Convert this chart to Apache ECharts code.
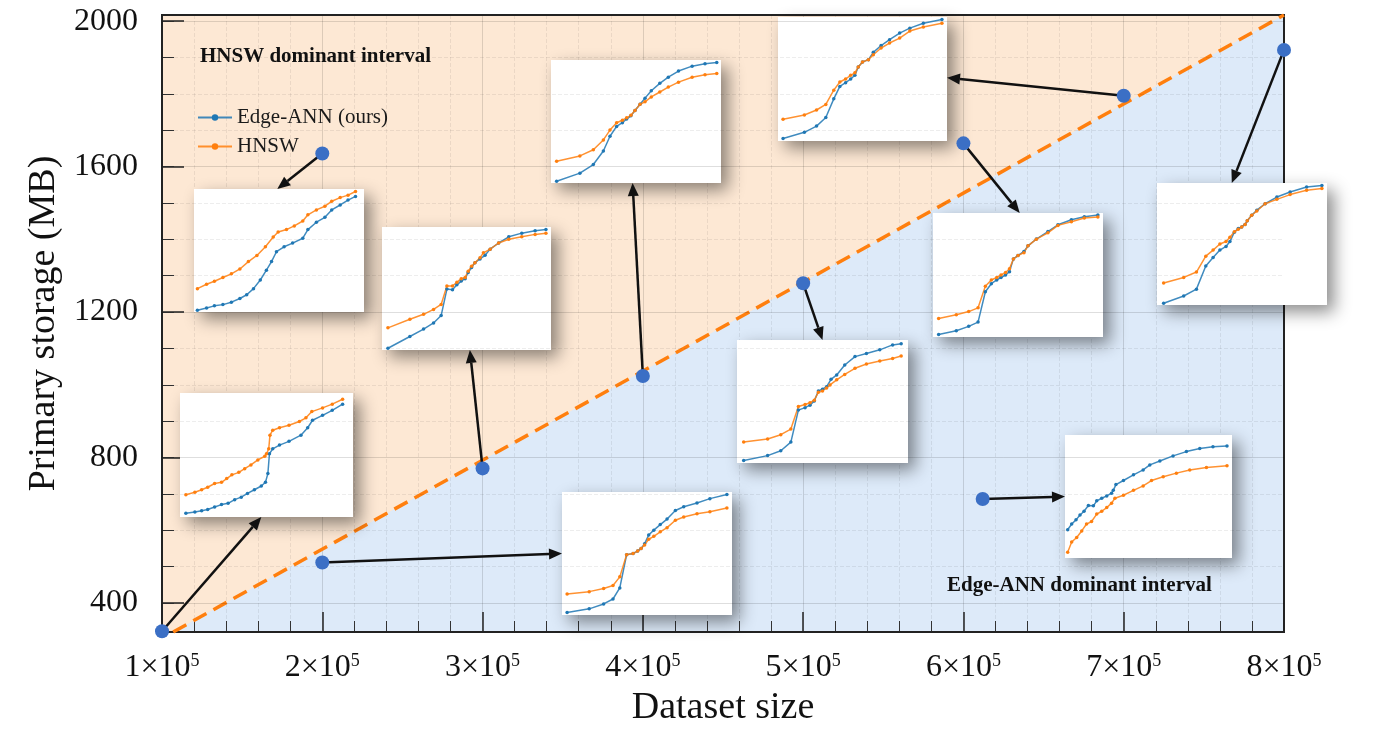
<!DOCTYPE html>
<html>
<head>
<meta charset="utf-8">
<script src="https://cdn.jsdelivr.net/npm/echarts@6/dist/echarts.min.js"></script>
<style>html,body{margin:0;padding:0;background:#fff}#main{width:1400px;height:732px}</style>
</head>
<body>
<div id="main"></div>
<script>
// main axes
var xMin = 1e5, xMax = 8e5;
var yMin = 320, yMax = 2017;
var yMajor = [400, 800, 1200, 1600, 2000];
var yMinor = [400, 500, 600, 700, 800, 900, 1000, 1100, 1200, 1300, 1400, 1500, 1600, 1700, 1800, 1900, 2000];

// border between the two regions
var boundary = [[1.07e5, 320], [8e5, 2017]];

// measured points (dataset size, primary storage)
var pointX = [1e5, 2e5, 2e5, 3e5, 4e5, 5e5, 6e5, 6.12e5, 7e5, 8e5];
var pointY = [322, 1636, 511, 770, 1024, 1279, 1664, 686, 1795, 1921];

// inset curves, x and y in % of the inset box
var insetB_edge = [[3.4,3],[8.6,4],[12.5,5],[16,6],[20,8],[24,10],[27.8,11],[31.6,14],[35.4,16],[39,19],[43,22],[47,25],[49.4,28],[50.8,35],[51.7,51],[53.6,55],[57.5,58],[63,61],[69.9,66],[73.8,72],[76.6,78],[82.4,82],[88,86],[94,91]];
var insetB_hnsw = [[3.4,18],[8.6,20],[12.5,22],[16,24],[20,27],[24,28],[27,31],[30,34],[34,36],[37.4,39],[41,42],[45,46],[49,49],[50,51],[51.3,55],[52,66],[53.6,70],[57.5,72],[63,74],[69,77],[72.8,80],[76.2,85],[82.4,88],[88,91],[94,95]];
var insetA_edge = [[2,1.4],[7.4,3.3],[12,5],[17,6],[22,8],[27,11],[31,14],[35,19],[39,26],[42.6,34],[45.6,41],[48.5,49],[53,53],[58,56],[64,60],[67,67],[72,73],[77,77],[81,83],[86,87],[90.6,91],[95,94]];
var insetA_hnsw = [[2,19],[7.4,22.6],[12,25],[17,28],[22,31],[27,35],[32,41],[37,46],[42,53],[46.6,61],[49.5,65],[54.4,67],[59,70],[64,74],[67,79],[72,83],[77,86],[81,90],[86,93],[90.6,95],[95,98]];
var insetF_edge = [[3,2],[16,5],[24.5,9],[30,13],[34,22],[38,49],[41.8,50],[44.5,52],[46.5,54],[48.6,58],[51,65],[54,69],[57.8,73.5],[61.8,78],[66.7,85],[71.6,88],[79.4,91],[87,94.6],[97,98]];
var insetF_hnsw = [[3,17],[16,19],[24.5,21.6],[30,24],[34,31],[38,49],[41.8,50],[44.5,52],[46.5,54],[48.6,57],[51,61.6],[54,64],[57.8,67.6],[61.8,71],[66.7,77],[71.6,79.7],[79.4,82.4],[87,84],[97,87]];
var insetC_edge = [[3.5,1.4],[16.5,11],[24.6,17],[30.5,22],[35,28],[38.4,49.5],[41.7,49],[44.3,53],[46.9,56],[49.2,58],[51,63],[53,67],[55,71],[58,74],[61,77],[64,82],[69,87],[75,92],[82.7,95],[90.6,97],[97,98]];
var insetC_hnsw = [[3.5,18],[16.5,25],[24.6,29],[30.5,33],[35,37],[38.4,52],[41.7,52],[44.3,55],[46.9,58],[49.2,59],[51,64],[53,68],[55,71],[58,75],[60,79],[64,82],[69,87],[75,90],[82.7,92],[90.6,94],[97,95]];
var insetD_edge = [[3.3,1.4],[17,8],[24.9,15],[30.8,26],[34.7,38],[38.6,46],[42,49],[44.5,52],[47,54.6],[49.4,59],[52.4,64],[55.3,69],[59,75],[64,81],[69,86],[75,91],[83,95],[90.6,97],[97.5,98]];
var insetD_hnsw = [[3.3,17.6],[17,22],[24.9,27],[30.8,35],[34.7,43],[38.6,49],[42,51],[44.5,53],[47,55],[49.4,59],[52.4,64],[55.3,66],[59,70],[64,74],[69,78],[75,82],[83,86],[90.6,88],[97.5,89]];
var insetG_edge = [[3.9,2],[17.9,6],[25.6,10],[31.5,17],[35.9,43],[39.8,45],[42.7,47],[45.2,50.5],[47.6,58.6],[50,60],[52.4,62],[55,68],[58.3,71.6],[63,79.7],[69,86.5],[75.7,89],[83.5,92],[91,96],[96,97]];
var insetG_hnsw = [[3.9,17],[17.9,19.5],[25.6,23],[31.5,27.6],[35.9,46],[39.8,47.6],[42.7,49],[45.2,51],[47.6,57.6],[50,58.6],[52.4,61],[54.4,63.5],[58.3,67.6],[63,72],[69,77],[75.7,80.5],[83.5,83],[91,85],[96,87]];
var insetH_edge = [[3.3,2],[13.7,5],[21,8.6],[26.5,12],[30.8,36.5],[34.3,43],[37.5,46],[40,48],[42.7,50],[45,52.7],[47.3,63],[50,65.7],[53.5,69],[55.9,73.5],[60.8,79],[67.6,85],[73.5,90.5],[81.4,94.6],[89,97],[97,98.4]];
var insetH_hnsw = [[3.3,15],[13.7,18],[21,20.5],[26.5,23.5],[30.8,41],[34.3,46],[37.5,48],[40,50],[42.7,52],[45,55],[47.3,63],[50,65.7],[53.5,68],[55.9,73.5],[60.8,78.9],[67.6,84],[73.5,90],[81.4,93],[89,96],[97,96.7]];
var insetJ_edge = [[1.6,23],[4,27.6],[6.6,31],[9,35],[11.4,38],[14,42.7],[17,42.4],[19,46.5],[22,48.6],[25,50.5],[27.9,52.7],[28.9,55],[30.5,59.7],[35,63],[41,67.6],[46.8,71.6],[50.8,75.7],[56.8,78.9],[64.7,83],[72.7,86.5],[80.7,89],[88.6,90.5],[97,91]];
var insetJ_hnsw = [[1.6,4.6],[4,13],[7,16.7],[10,22],[12.9,27.6],[15.9,29.7],[19,35.7],[22,38],[25,41],[27.9,44.6],[29.9,48.6],[35,51],[41,55],[46.8,58.6],[51.8,63],[58.8,66],[66.7,69],[74.7,71.6],[84.7,73.5],[97,75]];
var insetE_edge = [[3,2],[15.6,7],[22.8,12],[28.3,19],[33,34],[36.6,44],[40,47],[43,50],[45.5,53],[47.5,59.7],[50,63.7],[53.5,65.6],[56.4,71.5],[61,77],[66,81.7],[72,87],[78,91],[86,95],[97,98]];
var insetE_hnsw = [[3,17.5],[15.6,21],[22.8,25],[28.3,29.5],[33,41],[36.6,47.6],[40,50],[43,53],[45.5,55],[47.5,59.7],[50,63.7],[53.5,65.6],[56.4,69.6],[61,75],[66,79],[72,83],[78,88.7],[86,92],[97,95]];
var insetI_edge = [[3.9,1.4],[15.7,7.4],[23.2,13],[28.7,32],[33,39],[37,45],[40.6,48],[42.9,52],[45.5,59.7],[47.8,62.7],[49.8,64],[51.8,66],[53.1,69],[55.7,73.6],[58.7,77.7],[63.6,83],[70.5,88.5],[78.3,92.6],[88,96.7],[97,98]];
var insetI_hnsw = [[3.9,18],[15.7,22.6],[23.2,27],[28.7,40],[33,45],[37,50],[40.6,52],[42.9,55.6],[45.5,60],[47.8,62],[49.8,64],[51.8,66],[53.1,69],[55.7,73.6],[58.7,77],[63.6,83],[70.5,86.6],[78.3,90.5],[88,94],[97,95.4]];

// one inset per point, same order as pointX
var insetEdge = [insetB_edge, insetA_edge, insetF_edge, insetC_edge, insetD_edge, insetG_edge, insetH_edge, insetJ_edge, insetE_edge, insetI_edge];
var insetHnsw = [insetB_hnsw, insetA_hnsw, insetF_hnsw, insetC_hnsw, insetD_hnsw, insetG_hnsw, insetH_hnsw, insetJ_hnsw, insetE_hnsw, insetI_hnsw];

// layout: inset boxes [left, top, width, height] and where the arrow lands (fraction of box)
var insetBoxes = [[180,393,173,124],[194,189,170,123],[562,492,170,123],[382,227,169,123],[551,60,170,123],[737,340,171,123],[933,213,170,124],[1065,435,167,123],[778,17,169,124],[1157,183,170,122]];
var arrowTips = [[0.47,1.0],[0.49,0],[0,0.5],[0.52,1.0],[0.48,1.0],[0.5,0],[0.51,0],[0,0.5],[1.0,0.49],[0.44,0]];

var FONT = '"Liberation Serif", "Times New Roman", serif';
var BLUE = '#1f77b4', ORANGE = '#ff7f0e';

var chart = echarts.init(document.getElementById('main'));

var grids = [{left: 162, top: 15, width: 1122, height: 617, z: 0, show: true,
  backgroundColor: '#fde8d4', borderWidth: 0}];
var xAxes = [{
  type: 'value', gridIndex: 0, min: xMin, max: xMax, interval: 1e5, z: 3,
  name: 'Dataset size', nameLocation: 'middle', nameGap: 52,
  nameTextStyle: {fontFamily: FONT, fontSize: 38, color: '#111'},
  axisLine: {show: false},
  axisTick: {inside: true, length: 20, lineStyle: {color: '#222', width: 1.5}},
  minorTick: {show: true, splitNumber: 5, length: 11, lineStyle: {color: '#333', width: 1}},
  splitLine: {show: true, lineStyle: {color: 'rgba(0,0,0,0.13)', width: 1}},
  minorSplitLine: {show: true, lineStyle: {color: 'rgba(0,0,0,0.07)', type: 'dashed'}},
  axisLabel: {
    margin: 20, color: '#111',
    formatter: function (v) { return '{m|' + Math.round(v / 1e5) + '×10}{e|5}'; },
    rich: {m: {fontFamily: FONT, fontSize: 32, color: '#111'},
           e: {fontFamily: FONT, fontSize: 18, color: '#111', verticalAlign: 'top'}}
  }
}];
var yAxes = [{
  type: 'value', gridIndex: 0, min: yMin, max: yMax, z: 3, position: 'left',
  name: 'Primary storage (MB)', nameLocation: 'middle', nameGap: 98,
  nameTextStyle: {fontFamily: FONT, fontSize: 38, color: '#111'},
  axisLine: {show: false},
  axisTick: {inside: true, length: 22, customValues: yMajor, lineStyle: {color: '#222', width: 1.5}},
  axisLabel: {customValues: yMajor, fontFamily: FONT, fontSize: 32, color: '#111', margin: 24,
    formatter: function (v) { return String(v); }},
  splitLine: {show: false}
}, {
  type: 'value', gridIndex: 0, min: yMin, max: yMax, z: 3, position: 'left', offset: 0,
  axisLine: {show: false},
  axisTick: {inside: true, length: 12, customValues: yMinor, lineStyle: {color: '#333', width: 1}},
  axisLabel: {show: false},
  splitLine: {show: false}
}];

var series = [{
  // light blue region under the border
  type: 'line', xAxisIndex: 0, yAxisIndex: 0, data: boundary, z: 1,
  symbol: 'none', silent: true, lineStyle: {width: 0},
  areaStyle: {color: '#ddeaf9', opacity: 1, origin: 'start'}
}, {
  // grid lines on y
  type: 'line', xAxisIndex: 0, yAxisIndex: 0, data: [], z: 2, silent: true,
  markLine: {
    silent: true, symbol: ['none', 'none'], label: {show: false}, animation: false,
    data: yMajor.map(function (v) { return {yAxis: v, lineStyle: {color: 'rgba(0,0,0,0.13)', width: 1, type: 'solid'}}; })
      .concat(yMinor.filter(function (v) { return yMajor.indexOf(v) < 0; })
      .map(function (v) { return {yAxis: v, lineStyle: {color: 'rgba(0,0,0,0.07)', width: 1, type: 'dashed'}}; }))
  }
}, {
  type: 'line', xAxisIndex: 0, yAxisIndex: 0, data: boundary, z: 4,
  symbol: 'none', silent: true,
  lineStyle: {color: ORANGE, width: 3.5, type: [15, 8]}
}, {
  type: 'scatter', xAxisIndex: 0, yAxisIndex: 0, z: 8, clip: false,
  data: pointX.map(function (x, i) { return [x, pointY[i]]; }),
  symbolSize: 14, itemStyle: {color: '#3b6fc5', opacity: 1}
}];

insetBoxes.forEach(function (b, i) {
  grids.push({left: b[0], top: b[1], width: b[2], height: b[3], z: 5, show: true,
    backgroundColor: '#fff', borderWidth: 0,
    shadowBlur: 16, shadowColor: 'rgba(0,0,0,0.45)', shadowOffsetX: 7, shadowOffsetY: 7});
  xAxes.push({type: 'value', gridIndex: i + 1, min: 0, max: 100, show: false});
  yAxes.push({type: 'value', gridIndex: i + 1, min: 0, max: 100, show: false});
  [[insetEdge[i], 'Edge-ANN (ours)', BLUE], [insetHnsw[i], 'HNSW', ORANGE]].forEach(function (s) {
    series.push({
      type: 'line', name: s[1], xAxisIndex: i + 1, yAxisIndex: i + 2, data: s[0], z: 6,
      symbol: 'circle', symbolSize: 3.5, showSymbol: true, silent: true,
      itemStyle: {color: s[2]}, lineStyle: {color: s[2], width: 1.5, opacity: 0.85}
    });
  });
});

chart.setOption({
  animation: false,
  grid: grids,
  xAxis: xAxes,
  yAxis: yAxes,
  legend: {
    data: ['Edge-ANN (ours)', 'HNSW'], orient: 'vertical', left: 192, top: 102,
    itemWidth: 34, itemHeight: 8, itemGap: 8, selectedMode: false,
    textStyle: {fontFamily: FONT, fontSize: 21, color: '#1a1a1a'}
  },
  series: series
});

// frame, arrows and region labels
var els = [];
var tl = chart.convertToPixel({xAxisIndex: 0, yAxisIndex: 0}, [xMin, yMax]);
var br = chart.convertToPixel({xAxisIndex: 0, yAxisIndex: 0}, [xMax, yMin]);
els.push({type: 'rect', z: 4, silent: true,
  shape: {x: tl[0], y: tl[1], width: br[0] - tl[0], height: br[1] - tl[1]},
  style: {fill: 'none', stroke: '#222', lineWidth: 2}});
pointX.forEach(function (x, i) {
  var p = chart.convertToPixel({xAxisIndex: 0, yAxisIndex: 0}, [x, pointY[i]]);
  var b = insetBoxes[i], a = arrowTips[i];
  var t = [b[0] + a[0] * b[2], b[1] + a[1] * b[3]];
  var dx = t[0] - p[0], dy = t[1] - p[1], len = Math.sqrt(dx * dx + dy * dy);
  var ux = dx / len, uy = dy / len, hl = 13, hw = 5.5;
  var base = [t[0] - ux * hl, t[1] - uy * hl];
  els.push({type: 'line', z: 7, silent: true,
    shape: {x1: p[0], y1: p[1], x2: base[0], y2: base[1]},
    style: {stroke: '#111', lineWidth: 2.5}});
  els.push({type: 'polygon', z: 7, silent: true,
    shape: {points: [t, [base[0] - uy * hw, base[1] + ux * hw], [base[0] + uy * hw, base[1] - ux * hw]]},
    style: {fill: '#111'}});
});
els.push({type: 'text', z: 7, silent: true, x: 200, y: 57,
  style: {text: 'HNSW dominant interval', fontFamily: FONT, fontSize: 21, fontWeight: 'bold', fill: '#111', verticalAlign: 'middle'}});
els.push({type: 'text', z: 7, silent: true, x: 947, y: 586,
  style: {text: 'Edge-ANN dominant interval', fontFamily: FONT, fontSize: 21, fontWeight: 'bold', fill: '#111', verticalAlign: 'middle'}});

chart.setOption({graphic: {elements: els}});
</script>
</body>
</html>
